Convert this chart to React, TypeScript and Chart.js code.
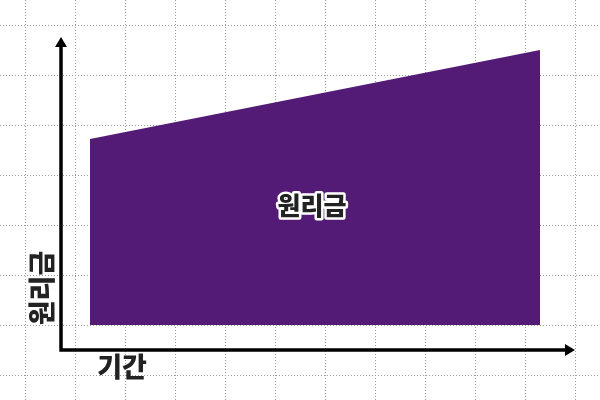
import React, { useEffect, useRef } from 'react';
import Chart from 'chart.js/auto';

// period (x) and principal+interest (y) at the two ends of the area
const periods = [1.3, 10.3];
const principal = [3.72, 5.5];

// grid positions
const xTicks = [0, 1, 2, 3, 4, 5, 6, 7, 8, 9, 10, 11];
const yTicks = [-1, 0, 1, 2, 3, 4, 5, 6];

const areaLabel = '원리금';
const yAxisTitle = '원리금';
const xAxisTitle = '기간';

const PURPLE = '#531b75';
const FONT = '"Noto Sans CJK KR", "Noto Sans", sans-serif';

const axesPlugin = {
  id: 'arrowAxes',
  afterDatasetsDraw(chart: any) {
    const { ctx, scales } = chart;
    const x = scales.x;
    const y = scales.y;
    const ox = x.getPixelForValue(0.72);
    const oy = y.getPixelForValue(-0.5);
    const topY = y.getPixelForValue(5.76);
    const rightX = x.getPixelForValue(11);

    ctx.save();
    ctx.strokeStyle = '#000';
    ctx.fillStyle = '#000';
    ctx.lineWidth = 3.5;
    ctx.lineCap = 'butt';
    ctx.beginPath();
    ctx.moveTo(ox, topY + 6);
    ctx.lineTo(ox, oy);
    ctx.lineTo(rightX - 6, oy);
    ctx.stroke();

    // arrow heads
    ctx.beginPath();
    ctx.moveTo(ox, topY);
    ctx.lineTo(ox - 6, topY + 10);
    ctx.lineTo(ox + 6, topY + 10);
    ctx.closePath();
    ctx.fill();
    ctx.beginPath();
    ctx.moveTo(rightX, oy);
    ctx.lineTo(rightX - 10, oy - 6);
    ctx.lineTo(rightX - 10, oy + 6);
    ctx.closePath();
    ctx.fill();

    // axis titles
    ctx.fillStyle = '#222';
    ctx.textAlign = 'center';
    ctx.textBaseline = 'middle';
    ctx.font = `900 27px ${FONT}`;
    ctx.fillText(xAxisTitle, x.getPixelForValue(1.94), y.getPixelForValue(-0.83));
    ctx.save();
    ctx.translate(x.getPixelForValue(0.33), y.getPixelForValue(0.74));
    ctx.rotate(-Math.PI / 2);
    ctx.fillText(yAxisTitle, 0, 0);
    ctx.restore();

    // label in the middle of the area
    const cx = (x.getPixelForValue(periods[0]) + x.getPixelForValue(periods[1])) / 2 - 3;
    const cy = y.getPixelForValue(principal[0] * 0.645);
    ctx.font = `900 25px ${FONT}`;
    ctx.lineJoin = 'round';
    ctx.lineWidth = 5;
    ctx.strokeStyle = '#fff';
    ctx.strokeText(areaLabel, cx, cy);
    ctx.fillStyle = '#222';
    ctx.fillText(areaLabel, cx, cy);
    ctx.restore();
  },
};

const App = () => {
  const canvasRef = useRef<HTMLCanvasElement>(null);

  useEffect(() => {
    const canvas = canvasRef.current;
    let chart: Chart | null = null;

    if (canvas) {
      const gridOpts = {
        color: '#9a9a9a',
        lineWidth: 1,
        drawTicks: false,
        tickLength: 0,
      };
      chart = new Chart(canvas, {
        type: 'line',
        data: {
          datasets: [
            {
              label: areaLabel,
              data: periods.map((p, i) => ({ x: p, y: principal[i] })),
              backgroundColor: PURPLE,
              borderWidth: 0,
              pointRadius: 0,
              fill: 'origin',
            },
          ],
        },
        options: {
          animation: false,
          responsive: true,
          maintainAspectRatio: false,
          layout: { padding: 0 },
          plugins: {
            legend: { display: false },
            tooltip: { enabled: false },
          },
          scales: {
            x: {
              type: 'linear',
              min: -0.5,
              max: 11.5,
              afterBuildTicks: (scale: any) => {
                scale.ticks = xTicks.map((v) => ({ value: v }));
              },
              ticks: { display: false },
              grid: gridOpts,
              border: { display: false, dash: [1, 2] },
            },
            y: {
              type: 'linear',
              min: -1.5,
              max: 6.5,
              afterBuildTicks: (scale: any) => {
                scale.ticks = yTicks.map((v) => ({ value: v }));
              },
              ticks: { display: false },
              grid: gridOpts,
              border: { display: false, dash: [1, 2] },
            },
          },
        },
        plugins: [axesPlugin],
      });
    }

    return () => {
      if (chart) {
        chart.destroy();
      }
    };
  }, []);

  return (
    <div style={{ position: 'fixed', left: 0, top: 0, width: 600, height: 400, background: '#fff' }}>
      <canvas ref={canvasRef}></canvas>
    </div>
  );
};

export default App;
